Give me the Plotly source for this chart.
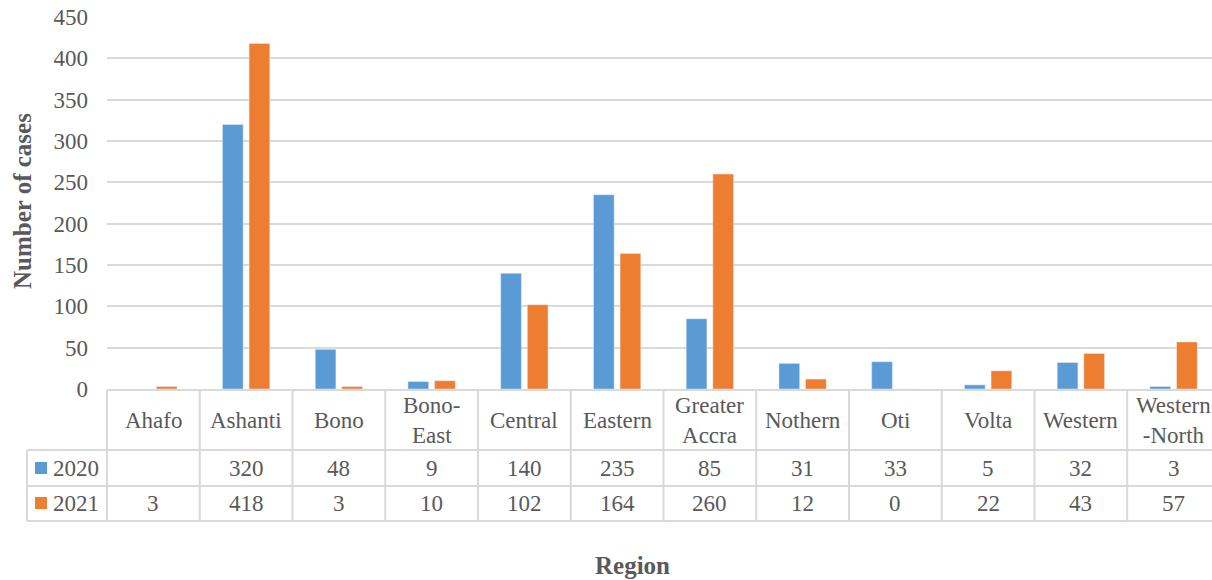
import plotly.graph_objects as go

# Reported cases by region
regions = ["Ahafo", "Ashanti", "Bono", "Bono-<br>East", "Central", "Eastern",
           "Greater<br>Accra", "Nothern", "Oti", "Volta", "Western", "Western<br>-North"]
cases_2020 = [None, 320, 48, 9, 140, 235, 85, 31, 33, 5, 32, 3]
cases_2021 = [3, 418, 3, 10, 102, 164, 260, 12, 0, 22, 43, 57]
series_names = ["2020", "2021"]
y_ticks = [0, 50, 100, 150, 200, 250, 300, 350, 400, 450]

BLUE = "#5B9BD5"
ORANGE = "#ED7D31"
TEXT = "#595959"
LINE = "#D9D9D9"
FONT = "Liberation Serif"

W, H = 1212, 580
ML, MR, MT, MB = 107, 0, 17, 191
PLOT_H = H - MT - MB
PLOT_W = W - ML - MR
X_RANGE = [-0.5, 11.414]


def px_x(p):
    return (p - ML) / PLOT_W


def px_y(p):
    return (H - MB - p) / PLOT_H


idx = list(range(len(regions)))

fig = go.Figure()
fig.add_trace(go.Bar(x=idx, y=cases_2020, name=series_names[0], marker_color=BLUE))
fig.add_trace(go.Bar(x=idx, y=cases_2021, name=series_names[1], marker_color=ORANGE))

shapes = []
line = dict(color=LINE, width=2)
# horizontal rules of the data table
shapes.append(dict(type="line", xref="paper", yref="paper", x0=0, x1=1,
                   y0=px_y(390), y1=px_y(390), line=line))
for yy in (450, 486, 521):
    shapes.append(dict(type="line", xref="paper", yref="paper", x0=px_x(27), x1=1,
                       y0=px_y(yy), y1=px_y(yy), line=line))
# vertical rules
shapes.append(dict(type="line", xref="paper", yref="paper", x0=px_x(27), x1=px_x(27),
                   y0=px_y(450), y1=px_y(521), line=line))
shapes.append(dict(type="line", xref="paper", yref="paper", x0=0, x1=0,
                   y0=px_y(390), y1=px_y(521), line=line))
for i in idx[1:]:
    shapes.append(dict(type="line", xref="x", yref="paper", x0=i - 0.5, x1=i - 0.5,
                       y0=px_y(390), y1=px_y(521), line=line))
# legend keys in the table
for color, yc in ((BLUE, 468), (ORANGE, 503)):
    shapes.append(dict(type="rect", xref="paper", yref="paper",
                       x0=px_x(35), x1=px_x(47), y0=px_y(yc + 6), y1=px_y(yc - 6),
                       fillcolor=color, line=dict(width=0)))

annotations = []
cell_font = dict(family=FONT, size=23, color=TEXT)
for i, name in enumerate(regions):
    annotations.append(dict(x=i, xref="x", y=px_y(420), yref="paper", text=name,
                            showarrow=False, font=cell_font, align="center",
                            xanchor="center", yanchor="middle"))
    for vals, yc in ((cases_2020, 468), (cases_2021, 503)):
        v = vals[i]
        if v is None:
            continue
        annotations.append(dict(x=i, xref="x", y=px_y(yc), yref="paper", text=str(v),
                                showarrow=False, font=cell_font,
                                xanchor="center", yanchor="middle"))
for name, yc in zip(series_names, (468, 503)):
    annotations.append(dict(x=px_x(51), xref="paper", y=px_y(yc), yref="paper", text=name,
                            xanchor="left", showarrow=False, font=cell_font,
                            yanchor="middle"))
annotations.append(dict(x=px_x(22), xref="paper", y=px_y(201), yref="paper",
                        text="<b>Number of cases</b>", textangle=-90, showarrow=False,
                        xanchor="center", yanchor="middle",
                        font=dict(family=FONT, size=25, color=TEXT)))
annotations.append(dict(x=px_x(632), xref="paper", y=px_y(565), yref="paper",
                        text="<b>Region</b>", showarrow=False,
                        xanchor="center", yanchor="middle",
                        font=dict(family=FONT, size=25, color=TEXT)))

fig.update_layout(
    width=W, height=H,
    margin=dict(l=ML, r=MR, t=MT, b=MB),
    paper_bgcolor="white", plot_bgcolor="white",
    barmode="group", bargap=0.426, bargroupgap=0.222,
    showlegend=False,
    font=dict(family=FONT, color=TEXT),
    shapes=shapes, annotations=annotations,
    xaxis=dict(range=X_RANGE, showticklabels=False, showgrid=False, zeroline=False,
               showline=False, ticks=""),
    yaxis=dict(range=[0, 450], tickvals=y_ticks, showgrid=True, gridcolor=LINE,
               gridwidth=2, zeroline=False, showline=False, ticks="",
               ticklabelstandoff=18,
               tickfont=dict(family=FONT, size=23, color=TEXT)),
)

fig.write_html("out.html")
